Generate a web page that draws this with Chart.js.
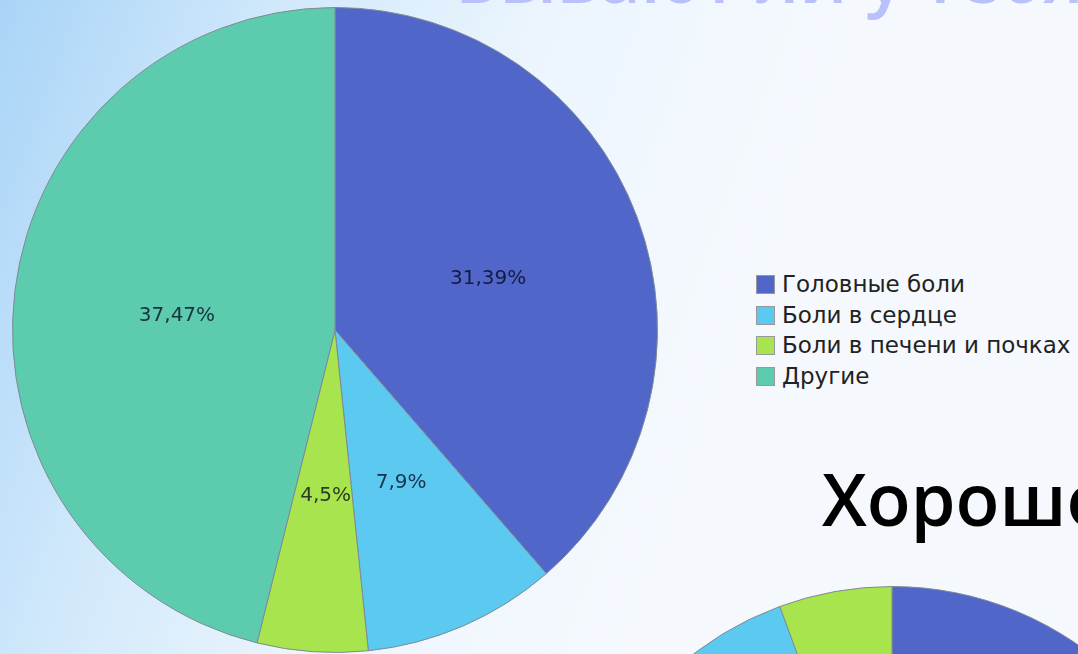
<!DOCTYPE html>
<html lang="ru">
<head>
<meta charset="utf-8">
<script src="https://cdn.jsdelivr.net/npm/chart.js@4.4.0/dist/chart.umd.min.js"></script>
<style>
  html, body { margin: 0; padding: 0; }
  body {
    width: 1078px; height: 654px; overflow: hidden; position: relative;
    background: linear-gradient(110deg, #a9d4f7 0%, #d2e9fb 22%, #ecf5fd 42%, #f5f9fe 65%);
    font-family: "DejaVu Sans", sans-serif;
  }
  #title {
    position: absolute; left: 455px; top: -73px; line-height: 1;
    font: 600 71px "Open Sans", sans-serif; color: #b9c1fa; white-space: nowrap;
  }
  #subtitle {
    position: absolute; left: 822px; top: 449px; line-height: 1;
    font: 600 72px "Open Sans", sans-serif; color: #000; white-space: nowrap;
  }
  #pieMain { position: absolute; left: 12px; top: 7px; }
  #pieSecond { position: absolute; left: 566px; top: 586px; }
  #legend { position: absolute; left: 756px; top: 275px; }
  .item { height: 30.5px; display: flex; align-items: flex-start; white-space: nowrap; }
  .box { width: 17px; height: 17px; border: 1px solid #999; margin-right: 7px; }
  .item span { font-size: 23px; line-height: 19px; color: #222; }
</style>
</head>
<body>
<div id="title">Бывают ли у тебя боли?</div>
<div id="subtitle">Хорошо ли ты себя чувствуешь?</div>
<canvas id="pieMain" width="646" height="646"></canvas>
<canvas id="pieSecond" width="652" height="652"></canvas>
<div id="legend"></div>
<script>
// Main pie data
const categories = ["Головные боли", "Боли в сердце", "Боли в печени и почках", "Другие"];
const shares = [31.39, 7.9, 4.5, 37.47];
const sliceColors = ["#5067c9", "#5cc9f1", "#a7e44d", "#5ccbae"];

// Second (cut off) pie, only its top is visible
const secondCategories = ["Головные боли", "Другие", "Боли в сердце", "Боли в печени и почках"];
const secondShares = [55, 27, 12.4, 5.6];
const secondColors = ["#5067c9", "#5ccbae", "#5cc9f1", "#a7e44d"];

function formatShare(v) {
  return String(v).replace(".", ",") + "%";
}

// Draw value labels in the middle of each slice
const sliceLabels = {
  id: "sliceLabels",
  afterDatasetsDraw(chart) {
    const ctx = chart.ctx;
    const meta = chart.getDatasetMeta(0);
    ctx.save();
    ctx.font = '20px "DejaVu Sans"';
    ctx.fillStyle = "rgba(0, 0, 25, 0.75)";
    ctx.textAlign = "center";
    ctx.textBaseline = "middle";
    meta.data.forEach((arc, i) => {
      const p = arc.getCenterPoint();
      ctx.fillText(formatShare(chart.data.datasets[0].data[i]), p.x + 2, p.y + 5);
    });
    ctx.restore();
  },
};

const mainChart = new Chart(document.getElementById("pieMain"), {
  type: "pie",
  data: {
    labels: categories,
    datasets: [
      {
        data: shares,
        backgroundColor: sliceColors,
        borderColor: "#7f8a96",
        borderWidth: 1,
      },
    ],
  },
  options: {
    responsive: false,
    animation: false,
    layout: { padding: 0 },
    plugins: { legend: { display: false }, tooltip: { enabled: false } },
  },
  plugins: [sliceLabels],
});

new Chart(document.getElementById("pieSecond"), {
  type: "pie",
  data: {
    labels: secondCategories,
    datasets: [
      {
        data: secondShares,
        backgroundColor: secondColors,
        borderColor: "#7f8a96",
        borderWidth: 1,
      },
    ],
  },
  options: {
    responsive: false,
    animation: false,
    layout: { padding: 0 },
    plugins: { legend: { display: false }, tooltip: { enabled: false } },
  },
});

// Legend built from the main chart's own labels
const legendEl = document.getElementById("legend");
mainChart.options.plugins.legend.labels
  .generateLabels(mainChart)
  .forEach((item) => {
    const row = document.createElement("div");
    row.className = "item";
    row.innerHTML = `<div class="box" style="background:${item.fillStyle}"></div><span>${item.text}</span>`;
    legendEl.appendChild(row);
  });
</script>
</body>
</html>
